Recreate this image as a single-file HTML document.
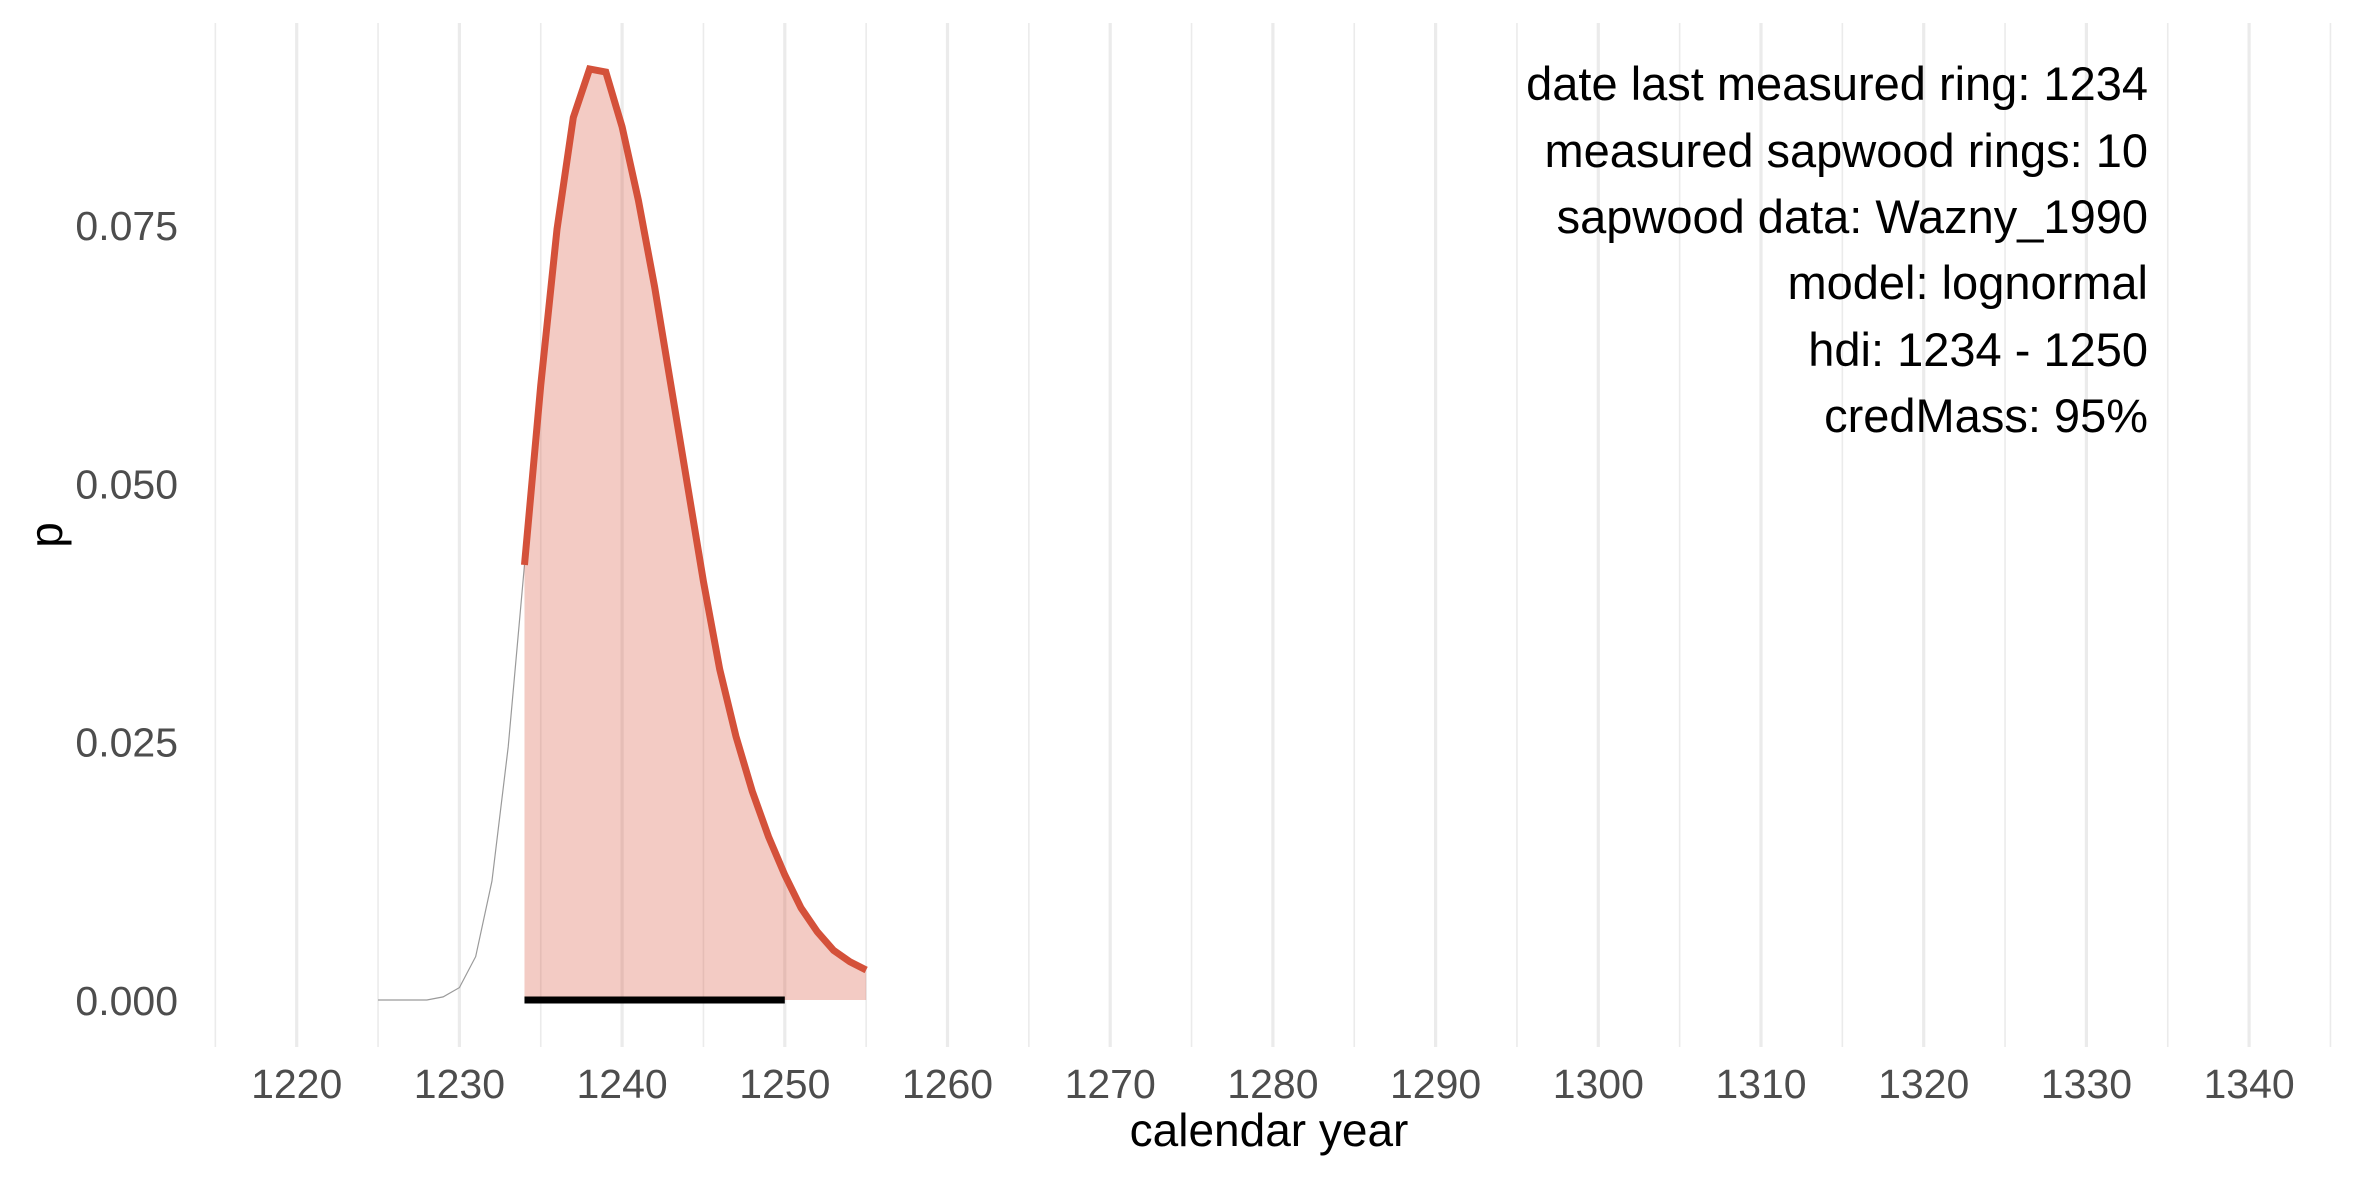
<!DOCTYPE html>
<html><head><meta charset="utf-8"><style>
html,body{margin:0;padding:0;background:#fff;}
svg{display:block;font-family:"Liberation Sans",Arial,sans-serif;}
</style></head><body>
<svg id="chart" width="2362" height="1181" viewBox="0 0 2362 1181" xmlns="http://www.w3.org/2000/svg">
<g id="grid"></g>
<g id="marks"></g>
<g id="axes"></g>
<text x="1269" y="1146" font-size="46" text-anchor="middle" fill="#000">calendar year</text>
<text x="0" y="0" font-size="46" text-anchor="middle" fill="#000" transform="translate(62,535) rotate(-90)">p</text>
<g font-size="47" text-anchor="end" fill="#000">
<text x="2148" y="100">date last measured ring: 1234</text>
<text x="2148" y="167">measured sapwood rings: 10</text>
<text x="2148" y="233">sapwood data: Wazny_1990</text>
<text x="2148" y="299">model: lognormal</text>
<text x="2148" y="366">hdi: 1234 - 1250</text>
<text x="2148" y="432">credMass: 95%</text>
</g>
</svg>
<script>
const greyYears = [1225,1226,1227,1228,1229,1230,1231,1232,1233,1234];
const greyP = [0,0,0,0,0.0003,0.0012,0.0042,0.0115,0.0245,0.0421];
const redYears = [1234,1235,1236,1237,1238,1239,1240,1241,1242,1243,1244,1245,1246,1247,1248,1249,1250,1251,1252,1253,1254,1255];
const redP = [0.0421,0.0595,0.0746,0.0854,0.0901,0.0898,0.0845,0.0774,0.0690,0.0595,0.0500,0.0405,0.0320,0.0255,0.0202,0.0158,0.0121,0.0089,0.0066,0.0048,0.0037,0.0029];
const hdi = [1234,1250];
const xTicks = [1220,1230,1240,1250,1260,1270,1280,1290,1300,1310,1320,1330,1340];
const xMinor = [1215,1225,1235,1245,1255,1265,1275,1285,1295,1305,1315,1325,1335,1345];
const yTicks = [0,0.025,0.05,0.075];
const yTickLabels = ["0.000","0.025","0.050","0.075"];

const NS="http://www.w3.org/2000/svg";
function xs(v){return 296.7+(v-1220)*16.27;}
function ys(v){return 1000-v*10333;}
function mk(tag,parent,attrs){const e=document.createElementNS(NS,tag);for(const k in attrs)e.setAttribute(k,attrs[k]);parent.appendChild(e);return e;}
const grid=document.getElementById('grid'),marks=document.getElementById('marks'),axes=document.getElementById('axes');
xMinor.forEach(v=>{
  const l=mk('line',grid,{x1:xs(v),x2:xs(v),y1:23,y2:1047,stroke:'#ebebeb','stroke-width':1.6});
  
  
});
xTicks.forEach(v=>{
  const l=mk('line',grid,{x1:xs(v),x2:xs(v),y1:23,y2:1047,stroke:'#ebebeb','stroke-width':3.2});
  
  
  const t=mk('text',axes,{x:xs(v),y:1098,'font-size':41,'text-anchor':'middle',fill:'#4d4d4d'});
  t.textContent=String(v);
  
  
});
yTicks.forEach((v,i)=>{
  const t=mk('text',axes,{x:178,y:ys(v)+15,'font-size':41,'text-anchor':'end',fill:'#4d4d4d'});
  t.textContent=yTickLabels[i];
  
  
});
const gpts=greyYears.map((y,i)=>xs(y)+','+ys(greyP[i])).join(' ');
const gl=mk('polyline',marks,{points:gpts,fill:'none',stroke:'#9a9a9a','stroke-width':1.2});


let fp=redYears.map((y,i)=>xs(y)+','+ys(redP[i]));
fp.push(xs(redYears[redYears.length-1])+','+ys(0));
fp.push(xs(redYears[0])+','+ys(0));
const area=mk('polygon',marks,{points:fp.join(' '),fill:'rgba(214,83,58,0.3)'});


const rl=mk('polyline',marks,{points:redYears.map((y,i)=>xs(y)+','+ys(redP[i])).join(' '),fill:'none',stroke:'#d4513a','stroke-width':7,'stroke-linejoin':'miter'});


const hb=mk('line',marks,{x1:xs(hdi[0]),x2:xs(hdi[1]),y1:ys(0),y2:ys(0),stroke:'#000','stroke-width':7});


</script>
</body></html>
